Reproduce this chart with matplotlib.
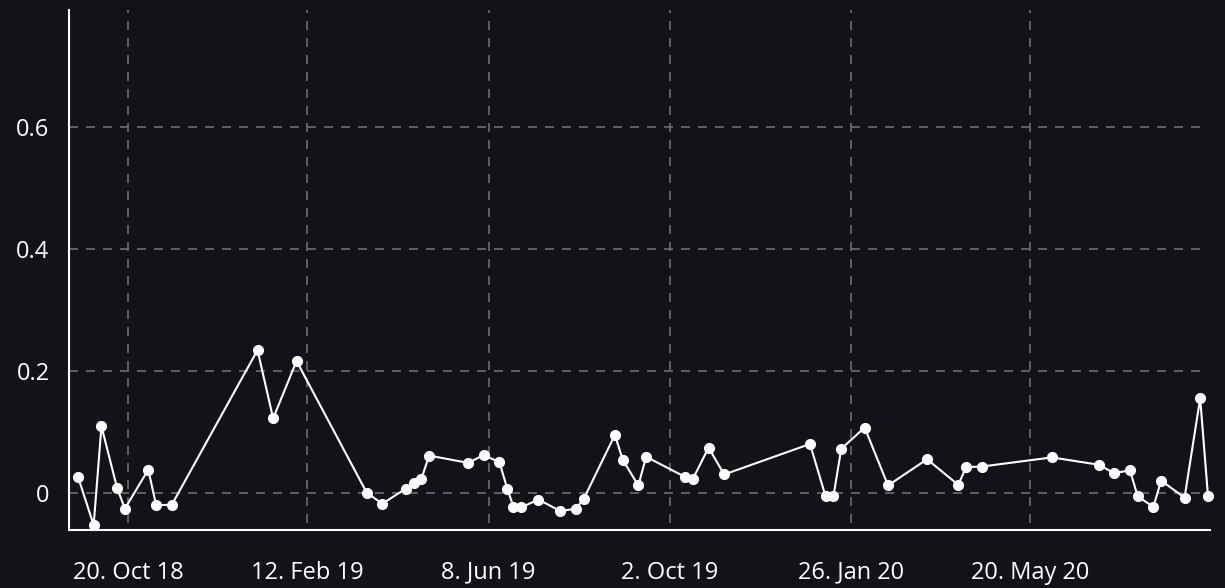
import pandas as pd
import matplotlib
matplotlib.use("Agg")
import matplotlib.pyplot as plt
import matplotlib.dates as mdates

# Series values by date
dates = [
    "2018-09-18", "2018-09-28", "2018-10-03", "2018-10-13", "2018-10-18",
    "2018-11-02", "2018-11-07", "2018-11-17", "2019-01-11", "2019-01-21",
    "2019-02-05", "2019-03-22", "2019-04-01", "2019-04-16", "2019-04-21",
    "2019-04-26", "2019-05-01", "2019-05-26", "2019-06-05", "2019-06-15",
    "2019-06-20", "2019-06-24", "2019-06-29", "2019-07-10", "2019-07-24",
    "2019-08-03", "2019-08-08", "2019-08-28", "2019-09-02", "2019-09-12",
    "2019-09-17", "2019-10-12", "2019-10-17", "2019-10-27", "2019-11-06",
    "2019-12-31", "2020-01-10", "2020-01-15", "2020-01-20", "2020-02-04",
    "2020-02-19", "2020-03-15", "2020-04-04", "2020-04-09", "2020-04-19",
    "2020-06-03", "2020-07-03", "2020-07-13", "2020-07-23", "2020-07-28",
    "2020-08-07", "2020-08-12", "2020-08-27", "2020-09-06", "2020-09-11",
]
values = [
    0.026, -0.053, 0.109, 0.008, -0.026,
    0.038, -0.020, -0.020, 0.234, 0.122,
    0.216, 0.000, -0.018, 0.007, 0.016,
    0.023, 0.061, 0.049, 0.062, 0.050,
    0.007, -0.023, -0.024, -0.011, -0.030,
    -0.026, -0.010, 0.095, 0.054, 0.012,
    0.059, 0.026, 0.023, 0.074, 0.030,
    0.080, -0.006, -0.006, 0.072, 0.107,
    0.012, 0.055, 0.013, 0.042, 0.043,
    0.058, 0.046, 0.032, 0.037, -0.006,
    -0.023, 0.020, -0.008, 0.155, -0.005,
]
tick_dates = ["2018-10-20", "2019-02-12", "2019-06-08", "2019-10-02", "2020-01-26", "2020-05-20"]
y_ticks = [0, 0.2, 0.4, 0.6]

BG = "#121319"
GRID = "#6e6e6e"
FG = "#ffffff"

plt.rcParams["font.family"] = ["Open Sans", "DejaVu Sans"]

df = pd.DataFrame({"date": pd.to_datetime(dates), "value": values})
ticks = pd.to_datetime(tick_dates)

fig = plt.figure(figsize=(12.25, 5.88), dpi=100, facecolor=BG)
ax = fig.add_axes([69 / 1225, 58 / 588, 1141 / 1225, 520 / 588])
ax.set_facecolor(BG)

start = mdates.date2num(ticks[0])
ax.set_xlim(start - 37.8, start + 693.3)
ax.set_ylim(-0.061, 0.7915)

# dashed grid, drawn by hand so the lines stop short of the axes edges
dash = (0, (5.4, 4.8))
for y in y_ticks:
    ax.axhline(y, xmax=0.991, color=GRID, lw=1.2, linestyle=dash, zorder=1)
for t in ticks:
    ax.axvline(t, ymin=0.013, color=GRID, lw=1.2, linestyle=dash, zorder=1)

ax.plot(df["date"], df["value"], color=FG, lw=1.5, marker="o", markersize=7,
        markerfacecolor=FG, markeredgecolor=FG, zorder=3, clip_on=False)

ax.set_xticks(ticks)
ax.set_xticklabels([f"{t.day}. {t:%b %y}" for t in ticks], va="baseline")
ax.set_yticks(y_ticks)
ax.set_yticklabels(["0", "0.2", "0.4", "0.6"])
ax.tick_params(axis="x", length=0, pad=35, labelsize=17, colors=FG)
ax.tick_params(axis="y", length=0, pad=14, labelsize=17, colors=FG)

for side in ["top", "right"]:
    ax.spines[side].set_visible(False)
for side in ["left", "bottom"]:
    ax.spines[side].set_color(FG)
    ax.spines[side].set_linewidth(1.5)

fig.savefig("out.png", dpi=100, facecolor=BG)
